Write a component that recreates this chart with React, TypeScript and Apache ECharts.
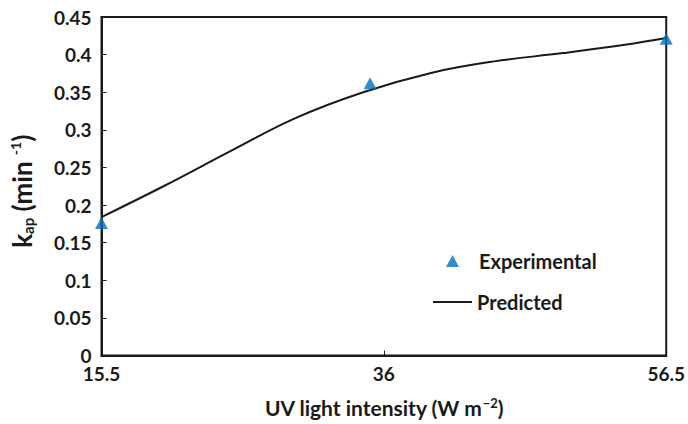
import React, { useEffect, useRef } from "react";
import * as echarts from "echarts";

// UV light intensity (W m^-2) vs apparent rate constant k_ap (min^-1)
const experimentalX = [15.5, 35, 56.5];
const experimentalY = [0.176, 0.362, 0.421];

const predictedX = [15.5, 20, 25, 29.5, 34.5, 39.5, 44, 49, 53.5, 56.5];
const predictedY = [0.184, 0.225, 0.273, 0.315, 0.35, 0.376, 0.391, 0.402, 0.413, 0.422];

const xTicks = [15.5, 36, 56.5];
const yTicks = [0, 0.05, 0.1, 0.15, 0.2, 0.25, 0.3, 0.35, 0.4, 0.45];

const FONT = "Lato, 'Open Sans', sans-serif";
const INK = "#1a1a1a";
const BLUE = "#0070C0";

const legendText = { fontFamily: FONT, fontSize: 20, fontWeight: "bold", color: INK };

export default function App() {
  const ref = useRef<HTMLDivElement>(null);

  useEffect(() => {
    if (!ref.current) return;
    const chart = echarts.init(ref.current, undefined, { renderer: "svg" });

    const experimental = experimentalX.map((x, i) => [x, experimentalY[i]]);
    const predicted = predictedX.map((x, i) => [x, predictedY[i]]);

    chart.setOption({
      animation: false,
      backgroundColor: "#ffffff",
      textStyle: { fontFamily: FONT, color: INK },
      grid: {
        left: 91,
        right: 20,
        top: 17,
        bottom: 67,
        show: true,
        borderColor: INK,
        borderWidth: 2,
      },
      legend: [
        {
          data: [{ name: "Experimental", icon: "triangle" }],
          left: 441,
          top: 246,
          itemWidth: 13,
          itemHeight: 12,
          textStyle: { ...legendText, padding: [0, 0, 0, 15] },
        },
        {
          data: [{ name: "Predicted", icon: "rect" }],
          left: 428,
          top: 287,
          itemWidth: 39,
          itemHeight: 2,
          itemStyle: { color: INK },
          textStyle: legendText,
        },
      ],
      xAxis: {
        type: "value",
        min: 15.5,
        max: 56.5,
        name: "{n|UV light intensity (W m}{sup|\u22122}{n|)}",
        nameLocation: "middle",
        nameGap: 38,
        nameTextStyle: {
          rich: {
            n: { fontFamily: FONT, fontSize: 21, fontWeight: "bold", color: INK, lineHeight: 28 },
            sup: { fontFamily: FONT, fontSize: 13, fontWeight: "bold", color: INK, lineHeight: 28, padding: [0, 0, 10, 0] },
          },
        },
        splitLine: { show: false },
        axisLine: { show: true, lineStyle: { color: INK, width: 2 } },
        axisTick: { show: true, inside: true, length: 5, lineStyle: { color: INK }, customValues: xTicks },
        axisLabel: {
          customValues: xTicks,
          fontFamily: FONT,
          fontSize: 19,
          fontWeight: "bold",
          color: INK,
          margin: 8,
          formatter: (v: number) => String(v),
        },
      },
      yAxis: {
        type: "value",
        min: 0,
        max: 0.45,
        interval: 0.05,
        name: "{n|k}{sub|ap}{n| (min }{sup|-1}{n|)}",
        nameLocation: "middle",
        nameGap: 64,
        nameRotate: 90,
        nameTextStyle: {
          padding: [0, 10, 0, 0],
          rich: {
            n: { fontFamily: FONT, fontSize: 26, fontWeight: "bold", color: INK, lineHeight: 32 },
            sub: { fontFamily: FONT, fontSize: 15, fontWeight: "bold", color: INK, lineHeight: 32, padding: [12, 0, 0, 0] },
            sup: { fontFamily: FONT, fontSize: 14, fontWeight: "bold", color: INK, lineHeight: 32, padding: [0, 0, 12, 0] },
          },
        },
        splitLine: { show: false },
        axisLine: { show: true, lineStyle: { color: INK, width: 2 } },
        axisTick: { show: true, inside: true, length: 5, lineStyle: { color: INK } },
        axisLabel: {
          fontFamily: FONT,
          fontSize: 19,
          fontWeight: "bold",
          color: INK,
          margin: 10,
          formatter: (v: number) => {
            const hit = yTicks.find((t) => Math.abs(t - v) < 1e-9);
            return String(hit !== undefined ? Number(hit.toFixed(2)) : v);
          },
        },
      },
      series: [
        {
          name: "Predicted",
          type: "line",
          data: predicted,
          smooth: 0.4,
          showSymbol: false,
          symbol: "none",
          lineStyle: { color: INK, width: 2 },
          itemStyle: { color: INK },
          z: 2,
        },
        {
          name: "Experimental",
          type: "scatter",
          data: experimental,
          symbol: "triangle",
          symbolSize: [13, 12],
          itemStyle: { color: BLUE },
          z: 3,
        },
      ],
    });

    return () => chart.dispose();
  }, []);

  return <div ref={ref} style={{ width: 688, height: 424, position: "absolute", left: 0, top: 0 }} />;
}
